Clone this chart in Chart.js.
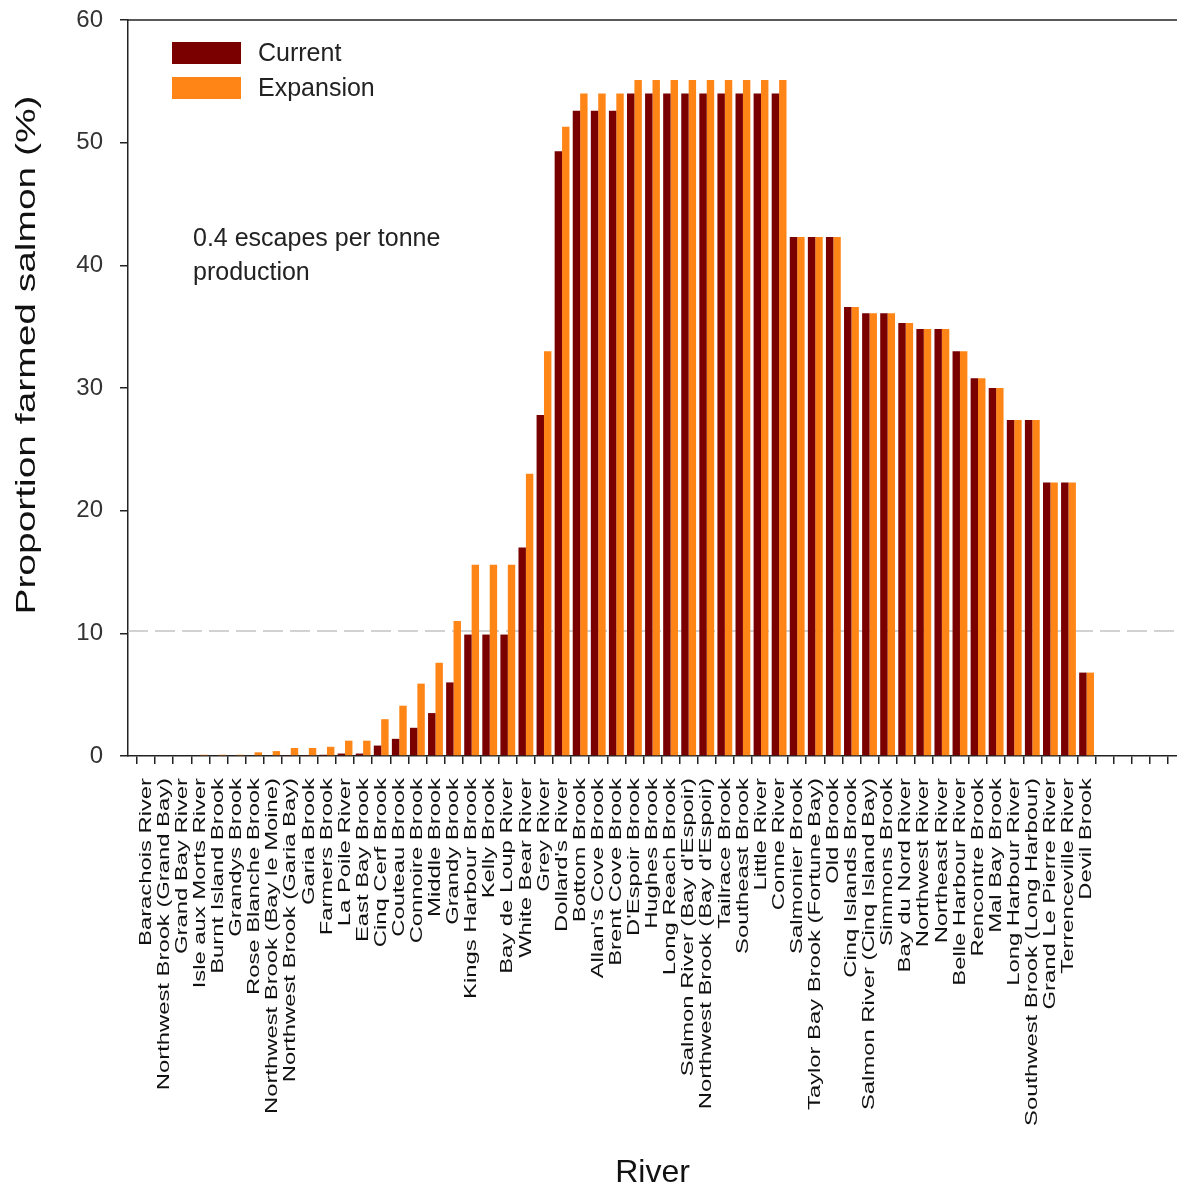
<!DOCTYPE html>
<html>
<head>
<meta charset="utf-8">
<title>Proportion farmed salmon by river</title>
<script src="https://cdn.jsdelivr.net/npm/chart.js@4.4.0/dist/chart.umd.min.js"></script>
<style>
  html, body { margin: 0; padding: 0; background: #fff; }
  #wrap { width: 1177px; height: 1192px; }
</style>
</head>
<body>
<div id="wrap"><canvas id="chart" width="1177" height="1192"></canvas></div>
<script>
// Rivers, in plotted order
const rivers = [
  'Barachois River', 'Northwest Brook (Grand Bay)', 'Grand Bay River', 'Isle aux Morts River',
  'Burnt Island Brook', 'Grandys Brook', 'Rose Blanche Brook', 'Northwest Brook (Bay le Moine)',
  'Northwest Brook (Garia Bay)', 'Garia Brook', 'Farmers Brook', 'La Poile River',
  'East Bay Brook', 'Cinq Cerf Brook', 'Couteau Brook', 'Connoire Brook',
  'Middle Brook', 'Grandy Brook', 'Kings Harbour Brook', 'Kelly Brook',
  'Bay de Loup River', 'White Bear River', 'Grey River', "Dollard's River",
  'Bottom Brook', "Allan's Cove Brook", 'Brent Cove Brook', "D'Espoir Brook",
  'Hughes Brook', 'Long Reach Brook', "Salmon River (Bay d'Espoir)", "Northwest Brook (Bay d'Espoir)",
  'Tailrace Brook', 'Southeast Brook', 'Little River', 'Conne River',
  'Salmonier Brook', 'Taylor Bay Brook (Fortune Bay)', 'Old Brook', 'Cinq Islands Brook',
  'Salmon River (Cinq Island Bay)', 'Simmons Brook', 'Bay du Nord River', 'Northwest River',
  'Northeast River', 'Belle Harbour River', 'Rencontre Brook', 'Mal Bay Brook',
  'Long Harbour River', 'Southwest Brook (Long Harbour)', 'Grand Le Pierre River', 'Terrenceville River',
  'Devil Brook'
];

// % farmed salmon, current production
const currentVals = [
  0, 0, 0, 0, 0, 0, 0, 0,
  0.08, 0.08, 0.1, 0.2, 0.2, 0.85, 1.4, 2.3,
  3.5, 6.0, 9.9, 9.9, 9.9, 17.0, 27.8, 49.3,
  52.6, 52.6, 52.6, 54.0, 54.0, 54.0, 54.0, 54.0,
  54.0, 54.0, 54.0, 54.0, 42.3, 42.3, 42.3, 36.6,
  36.1, 36.1, 35.3, 34.8, 34.8, 33.0, 30.8, 30.0,
  27.4, 27.4, 22.3, 22.3, 6.8
];

// % farmed salmon, with expansion
const expansionVals = [
  0, 0, 0, 0.1, 0.1, 0.1, 0.3, 0.4,
  0.65, 0.65, 0.75, 1.25, 1.25, 3.0, 4.1, 5.9,
  7.6, 11.0, 15.6, 15.6, 15.6, 23.0, 33.0, 51.3,
  54.0, 54.0, 54.0, 55.1, 55.1, 55.1, 55.1, 55.1,
  55.1, 55.1, 55.1, 55.1, 42.3, 42.3, 42.3, 36.6,
  36.1, 36.1, 35.3, 34.8, 34.8, 33.0, 30.8, 30.0,
  27.4, 27.4, 22.3, 22.3, 6.8
];

const yTicks = [0, 10, 20, 30, 40, 50, 60];
const thresholdValue = 10.2;            // dashed reference line
const noteLines = ['0.4 escapes per tonne', 'production'];
const seriesNames = ['Current', 'Expansion'];
const seriesColors = ['#7a0000', '#ff8517'];

// empty slots: one at the axis, a few after the last river
const LEAD = 1, TRAIL = 5;
const pad = (arr, fill) => [...Array(LEAD).fill(fill), ...arr, ...Array(TRAIL).fill(fill)];
const labels = pad(rivers, '');

const FONT = '"Liberation Sans", Arial, sans-serif';
const LABEL_STRETCH = 1.4;   // rotated labels are drawn tall in the original

const overlay = {
  id: 'overlay',
  beforeDatasetsDraw(chart) {
    const { ctx, chartArea: a, scales: { y } } = chart;
    const yy = y.getPixelForValue(thresholdValue);
    ctx.save();
    ctx.strokeStyle = '#c4c4c4';
    ctx.lineWidth = 1.5;
    ctx.setLineDash([20, 7]);
    ctx.beginPath();
    ctx.moveTo(a.left, yy);
    ctx.lineTo(a.right, yy);
    ctx.stroke();
    ctx.restore();
  },
  afterDraw(chart) {
    const { ctx, chartArea: a, scales: { x } } = chart;
    ctx.save();

    // top frame line
    ctx.strokeStyle = '#222';
    ctx.lineWidth = 1.5;
    ctx.beginPath();
    ctx.moveTo(a.left, a.top);
    ctx.lineTo(a.right, a.top);
    ctx.stroke();

    // river names, rotated
    ctx.fillStyle = '#111';
    ctx.font = '17px ' + FONT;
    ctx.textAlign = 'right';
    ctx.textBaseline = 'middle';
    x.ticks.forEach((t, i) => {
      const name = x.getLabelForValue(t.value);
      if (!name) return;
      ctx.save();
      ctx.translate(x.getPixelForTick(i), a.bottom + 22);
      ctx.rotate(-Math.PI / 2);
      ctx.scale(LABEL_STRETCH, 1);
      ctx.fillText(name, 0, 0);
      ctx.restore();
    });

    // y axis title
    ctx.save();
    ctx.font = '28px ' + FONT;
    ctx.textAlign = 'center';
    ctx.fillStyle = '#111';
    ctx.translate(27, a.top + 335);
    ctx.rotate(-Math.PI / 2);
    ctx.scale(1.39, 1);
    ctx.fillText('Proportion farmed salmon (%)', 0, 0);
    ctx.restore();

    // legend
    ctx.font = '25px ' + FONT;
    ctx.textAlign = 'left';
    chart.data.datasets.forEach((ds, k) => {
      const top = a.top + 22 + k * 35;
      ctx.fillStyle = ds.backgroundColor;
      ctx.fillRect(a.left + 44, top, 69, 22);
      ctx.fillStyle = '#222';
      ctx.fillText(ds.label, a.left + 130, top + 12);
    });

    // note
    ctx.font = '25px ' + FONT;
    noteLines.forEach((line, k) => {
      ctx.fillText(line, a.left + 65, a.top + 219 + k * 34);
    });

    ctx.restore();
  }
};

new Chart(document.getElementById('chart'), {
  type: 'bar',
  data: {
    labels,
    datasets: seriesNames.map((name, k) => ({
      label: name,
      data: pad(k === 0 ? currentVals : expansionVals, null),
      backgroundColor: seriesColors[k],
      borderWidth: 0,
      categoryPercentage: 0.82,
      barPercentage: 1.0
    }))
  },
  options: {
    responsive: false,
    animation: false,
    devicePixelRatio: 1,
    layout: { padding: { top: 20, right: 0, bottom: 0, left: 0 } },
    plugins: { legend: { display: false }, tooltip: { enabled: false } },
    scales: {
      x: {
        offset: false,
        grid: { display: true, drawOnChartArea: false, tickLength: 8, color: '#222', lineWidth: 1.5 },
        border: { color: '#222', width: 1.5 },
        ticks: { display: false, autoSkip: false },
        title: {
          display: true, text: 'River', color: '#111',
          font: { family: FONT, size: 32 }, padding: { top: 0, bottom: 0 }
        },
        afterFit(scale) { scale.height = 436; }
      },
      y: {
        min: 0, max: 60,
        afterBuildTicks(scale) { scale.ticks = yTicks.map(v => ({ value: v })); },
        grid: { display: true, drawOnChartArea: false, tickLength: 8, color: '#222', lineWidth: 1.5 },
        border: { color: '#222', width: 1.5 },
        ticks: { color: '#333', padding: 17, font: { family: FONT, size: 24 } },
        afterFit(scale) {
          scale.width = 128;
          scale.paddingTop = 0;
          scale.paddingBottom = 0;
        }
      }
    }
  },
  plugins: [overlay]
});
</script>
</body>
</html>
